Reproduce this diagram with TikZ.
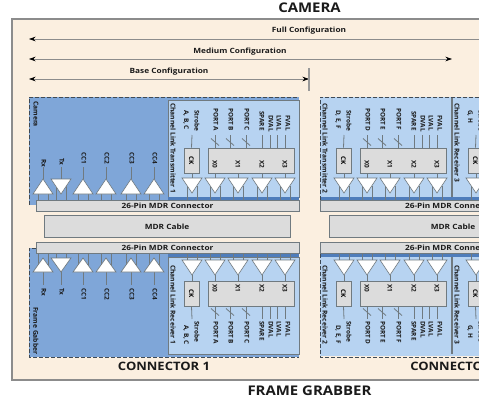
\documentclass[tikz,border=0pt]{standalone}
\usepackage{fontspec}
\setmainfont{Open Sans}
\usetikzlibrary{arrows.meta}
\definecolor{bgb}{HTML}{FBEFE0}
\definecolor{dkb}{HTML}{7FA6D8}
\definecolor{ltb}{HTML}{B7D3F1}
\definecolor{strip}{HTML}{4F7DBB}
\definecolor{gbox}{HTML}{DCDCDC}
\definecolor{edge}{HTML}{707A80}
\definecolor{dash}{HTML}{3F4A55}
\definecolor{ink}{HTML}{1A1A1A}
\tikzset{
  x=0.75pt,y=-0.75pt,
  heading/.style={font=\bfseries\fontsize{10pt}{10pt}\selectfont,text=ink,inner sep=0,xscale=1.12},
  subheading/.style={font=\bfseries\fontsize{8.7pt}{8.7pt}\selectfont,text=ink,inner sep=0,xscale=1.12},
  cfglabel/.style={font=\bfseries\fontsize{5.4pt}{5.4pt}\selectfont,text=ink,inner sep=0,xscale=1.15},
  cfgline/.style={draw=black!45,line width=0.5pt,{Stealth[length=5pt,width=3.5pt,black]}-{Stealth[length=5pt,width=3.5pt,black]}},
  graybox/.style={fill=gbox,draw=edge,line width=0.7pt},
  tri/.style={fill=white,draw=edge,line width=0.5pt,line join=miter},
  wire/.style={draw=edge,line width=0.6pt},
  pin/.style={draw=edge,line width=0.6pt},
  tiny/.style={font=\bfseries\fontsize{4.8pt}{4.8pt}\selectfont,text=ink,inner sep=0,rotate=-90},
  vtitle/.style={font=\bfseries\fontsize{5pt}{5pt}\selectfont,text=ink,inner sep=0,rotate=-90,anchor=west},
  conn/.style={font=\bfseries\fontsize{5.4pt}{5.4pt}\selectfont,text=ink,inner sep=0,xscale=1.15},
  panel/.style={draw=dash,line width=0.75pt,dash pattern=on 3pt off 1.5pt},
}
% channel block, top row: #1 x offset, #2 title, #3 strobe letters, #4 #5 #6 ports, #7 name prefix
\newcommand{\topblock}[7]{%
  \begin{scope}[shift={(#1,0)}]
    \node[vtitle] (#7t) at (173,103) {#2};
    \node[graybox,minimum width=11.25pt,minimum height=18.75pt,inner sep=0] (#7ck) at (191.5,160.5) {\rotatebox{-90}{\bfseries\fontsize{4.8pt}{4.8pt}\selectfont CK}};
    \node[graybox,minimum width=64.5pt,minimum height=18.75pt,inner sep=0] (#7x) at (251,160.5) {};
    \foreach \tx/\tl in {215/X0,238/X1,262/X2,285/X3}{\node[tiny] at (\tx,164) {\tl};}
    \node[tiny,anchor=west] at (197,110) {Strobe};
    \node[tiny,anchor=west] at (186,110) {#3};
    \node[tiny,anchor=west] at (216,108) {#4};
    \node[tiny,anchor=west] at (231,108) {#5};
    \node[tiny,anchor=west] at (247,108) {#6};
    \node[tiny,anchor=west] at (262,111) {SPARE};
    \node[tiny,anchor=west] at (271,115) {DVAL};
    \node[tiny,anchor=west] at (279,115) {LVAL};
    \node[tiny,anchor=west] at (288,115) {FVAL};
    \draw[wire] (192,135) -- (#7ck.north);
    \foreach \w in {215,230,246,262,270,277,285}{\draw[wire] (\w,135) -- (\w,148);}
    \foreach \w in {215,230,246}{\draw[wire] (\w-4,138.5) -- (\w+4,145.5);}
    \foreach \c in {192,215,238,262,285}{
      \draw[wire] (\c,173) -- (\c,178);
      \draw[pin] (\c-5,186) -- (\c-5,200) (\c+5,186) -- (\c+5,200);
      \draw[tri] (\c-10,178) -- (\c+10,178) -- (\c,193) -- cycle;
    }
  \end{scope}}
% channel block, bottom row
\newcommand{\botblock}[7]{%
  \begin{scope}[shift={(#1,0)}]
    \node[vtitle] (#7t) at (173,265) {#2};
    \node[graybox,minimum width=11.25pt,minimum height=18.75pt,inner sep=0] (#7ck) at (191.5,293.5) {\rotatebox{-90}{\bfseries\fontsize{4.8pt}{4.8pt}\selectfont CK}};
    \node[graybox,minimum width=64.5pt,minimum height=18.75pt,inner sep=0] (#7x) at (251,293.5) {};
    \foreach \tx/\tl in {215/X0,238/X1,262/X2,285/X3}{\node[tiny] at (\tx,288) {\tl};}
    \node[tiny,anchor=west] at (197,321) {Strobe};
    \node[tiny,anchor=west] at (186,325) {#3};
    \node[tiny,anchor=west] at (216,321) {#4};
    \node[tiny,anchor=west] at (231,321) {#5};
    \node[tiny,anchor=west] at (247,321) {#6};
    \node[tiny,anchor=west] at (262,321) {SPARE};
    \node[tiny,anchor=west] at (271,321) {DVAL};
    \node[tiny,anchor=west] at (279,321) {LVAL};
    \node[tiny,anchor=west] at (288,321) {FVAL};
    \draw[wire] (#7ck.south) -- (192,319);
    \foreach \w in {215,230,246,262,270,277,285}{\draw[wire] (\w,306) -- (\w,319);}
    \foreach \w in {215,230,246}{\draw[wire] (\w-4,308.5) -- (\w+4,315.5);}
    \foreach \c in {192,215,238,262,285}{
      \draw[wire] (\c,275) -- (\c,281);
      \draw[pin] (\c-5,254) -- (\c-5,267) (\c+5,254) -- (\c+5,267);
      \draw[tri] (\c-10,260) -- (\c+10,260) -- (\c,275) -- cycle;
    }
  \end{scope}}
\begin{document}
\begin{tikzpicture}
\useasboundingbox (0,0) rectangle (479,400);
\clip (0,0) rectangle (479,400);
\fill[white] (0,0) rectangle (479,400);
\node[heading] (cam) at (309.5,8) {CAMERA};
\node[heading] (fg) at (309.5,391) {FRAME GRABBER};
\draw[fill=bgb,draw=black!45,line width=1pt] (12,19) rectangle (490,380);
\node[subheading] (c1) at (164,366) {CONNECTOR 1};
\node[subheading,anchor=west] (c2) at (410,366) {CONNECTOR 2};
% configuration ranges
\node[cfglabel] (full) at (309,31) {Full Configuration};
\node[cfglabel] (med) at (240,52) {Medium Configuration};
\node[cfglabel] (base) at (169,72) {Base Configuration};
\coordinate (fl) at (29,39); \coordinate (fr) at (500,39);
\coordinate (ml) at (29,59); \coordinate (mr) at (452,59);
\coordinate (bl) at (29,79); \coordinate (br) at (309,79);
\draw[cfgline] (fl) -- (fr);
\draw[cfgline] (ml) -- (mr);
\draw[cfgline] (bl) -- (br);
\draw[draw=black!40,line width=0.9pt] (309,68) -- (309,91);
% camera panel
\fill[dkb] (29,97) rectangle (299,205);
\draw[panel] (29,205) -- (29,97) -- (299,97);
\draw[fill=ltb,draw=edge,line width=0.7pt] (168,100) rectangle (299,197);
\fill[strip] (168,197) rectangle (299,200);
% right top panel
\fill[ltb] (320,97) rectangle (490,197);
\fill[strip] (320,197) rectangle (490,200);
\draw[panel] (320,200) -- (320,97) -- (490,97);
\draw[edge,line width=0.9pt] (452,98) -- (452,197);
% frame grabber panel
\fill[dkb] (29,248) rectangle (299,357);
\draw[panel] (36,248) -- (29,248) -- (29,357) -- (299,357);
\draw[fill=ltb,draw=edge,line width=0.7pt] (168,257) rectangle (299,354);
\fill[strip] (168,254) rectangle (299,257);
% right bottom panel
\fill[ltb] (320,257) rectangle (490,356);
\fill[strip] (320,254) rectangle (490,257);
\draw[panel] (320,254) -- (320,357) -- (490,357);
\draw[edge,line width=0.9pt] (452,257) -- (452,354);
% camera side
\node[vtitle] (camt) at (36,101) {Camera};
\foreach \c/\l/\y in {43/Rx/159,83/CC1/152,106/CC2/152,131/CC3/152,154/CC4/152}{
  \node[tiny,anchor=west] at (\c+1,\y) {\l};
  \draw[wire] (\c,167) -- (\c,179);
  \draw[pin] (\c-5,190) -- (\c-5,200) (\c+5,190) -- (\c+5,200);
  \draw[tri] (\c,179) -- (\c+10,194) -- (\c-10,194) -- cycle;
}
\node[tiny,anchor=west] at (62,158) {Tx};
\draw[wire] (61,167) -- (61,179);
\draw[pin] (56,186) -- (56,200) (66,186) -- (66,200);
\draw[tri] (51,179) -- (71,179) -- (61,194) -- cycle;
% frame grabber side
\node[vtitle] (fgt) at (36,307) {Frame Gabber};
\foreach \c/\l in {43/Rx,83/CC1,106/CC2,131/CC3,154/CC4}{
  \node[tiny,anchor=west] at (\c+1,288) {\l};
  \draw[wire] (\c,272) -- (\c,285);
  \draw[pin] (\c-5,254) -- (\c-5,266) (\c+5,254) -- (\c+5,266);
  \draw[tri] (\c,258) -- (\c+10,272) -- (\c-10,272) -- cycle;
}
\node[tiny,anchor=west] at (62,288) {Tx};
\draw[wire] (61,272) -- (61,285);
\draw[pin] (56,254) -- (56,262) (66,254) -- (66,262);
\draw[tri] (51,258) -- (71,258) -- (61,272) -- cycle;
% channel blocks
\topblock{0}{Channel Link Transmitter 1}{A, B, C}{PORT A}{PORT B}{PORT C}{ta}
\topblock{152}{Channel Link Transmitter 2}{D, E, F}{PORT D}{PORT E}{PORT F}{tb}
\topblock{284}{Channel Link Receiver 3}{G, H}{}{}{}{tc}
\botblock{0}{Channel Link Receiver 1}{A, B, C}{PORT A}{PORT B}{PORT C}{ba}
\botblock{152}{Channel Link Receiver 2}{D, E, F}{PORT D}{PORT E}{PORT F}{bb}
\botblock{284}{Channel Link Receiver 3}{G, H}{}{}{}{bc}
% connectors and cable
\node[graybox,minimum width=197.25pt,minimum height=8.5pt,inner sep=0] (cn1) at (167.5,206) {};
\node[conn] at (167.5,206) {26-Pin MDR Connector};
\node[graybox,minimum width=184.5pt,minimum height=17pt,inner sep=0] (cab1) at (167,226.5) {};
\node[conn] at (167,226.5) {MDR Cable};
\node[graybox,minimum width=197.25pt,minimum height=8.5pt,inner sep=0] (cn2) at (167.5,248) {};
\node[conn] at (167.5,248) {26-Pin MDR Connector};
\node[graybox,anchor=west,minimum width=130pt,minimum height=8.5pt,inner sep=0] (cn3) at (320,206) {};
\node[conn] at (451,206) {26-Pin MDR Connector};
\node[graybox,anchor=west,minimum width=130pt,minimum height=17pt,inner sep=0] (cab2) at (329,226.5) {};
\node[conn] at (453,226.5) {MDR Cable};
\node[graybox,anchor=west,minimum width=130pt,minimum height=8.5pt,inner sep=0] (cn4) at (320,248) {};
\node[conn] at (451,248) {26-Pin MDR Connector};
\end{tikzpicture}
\end{document}
